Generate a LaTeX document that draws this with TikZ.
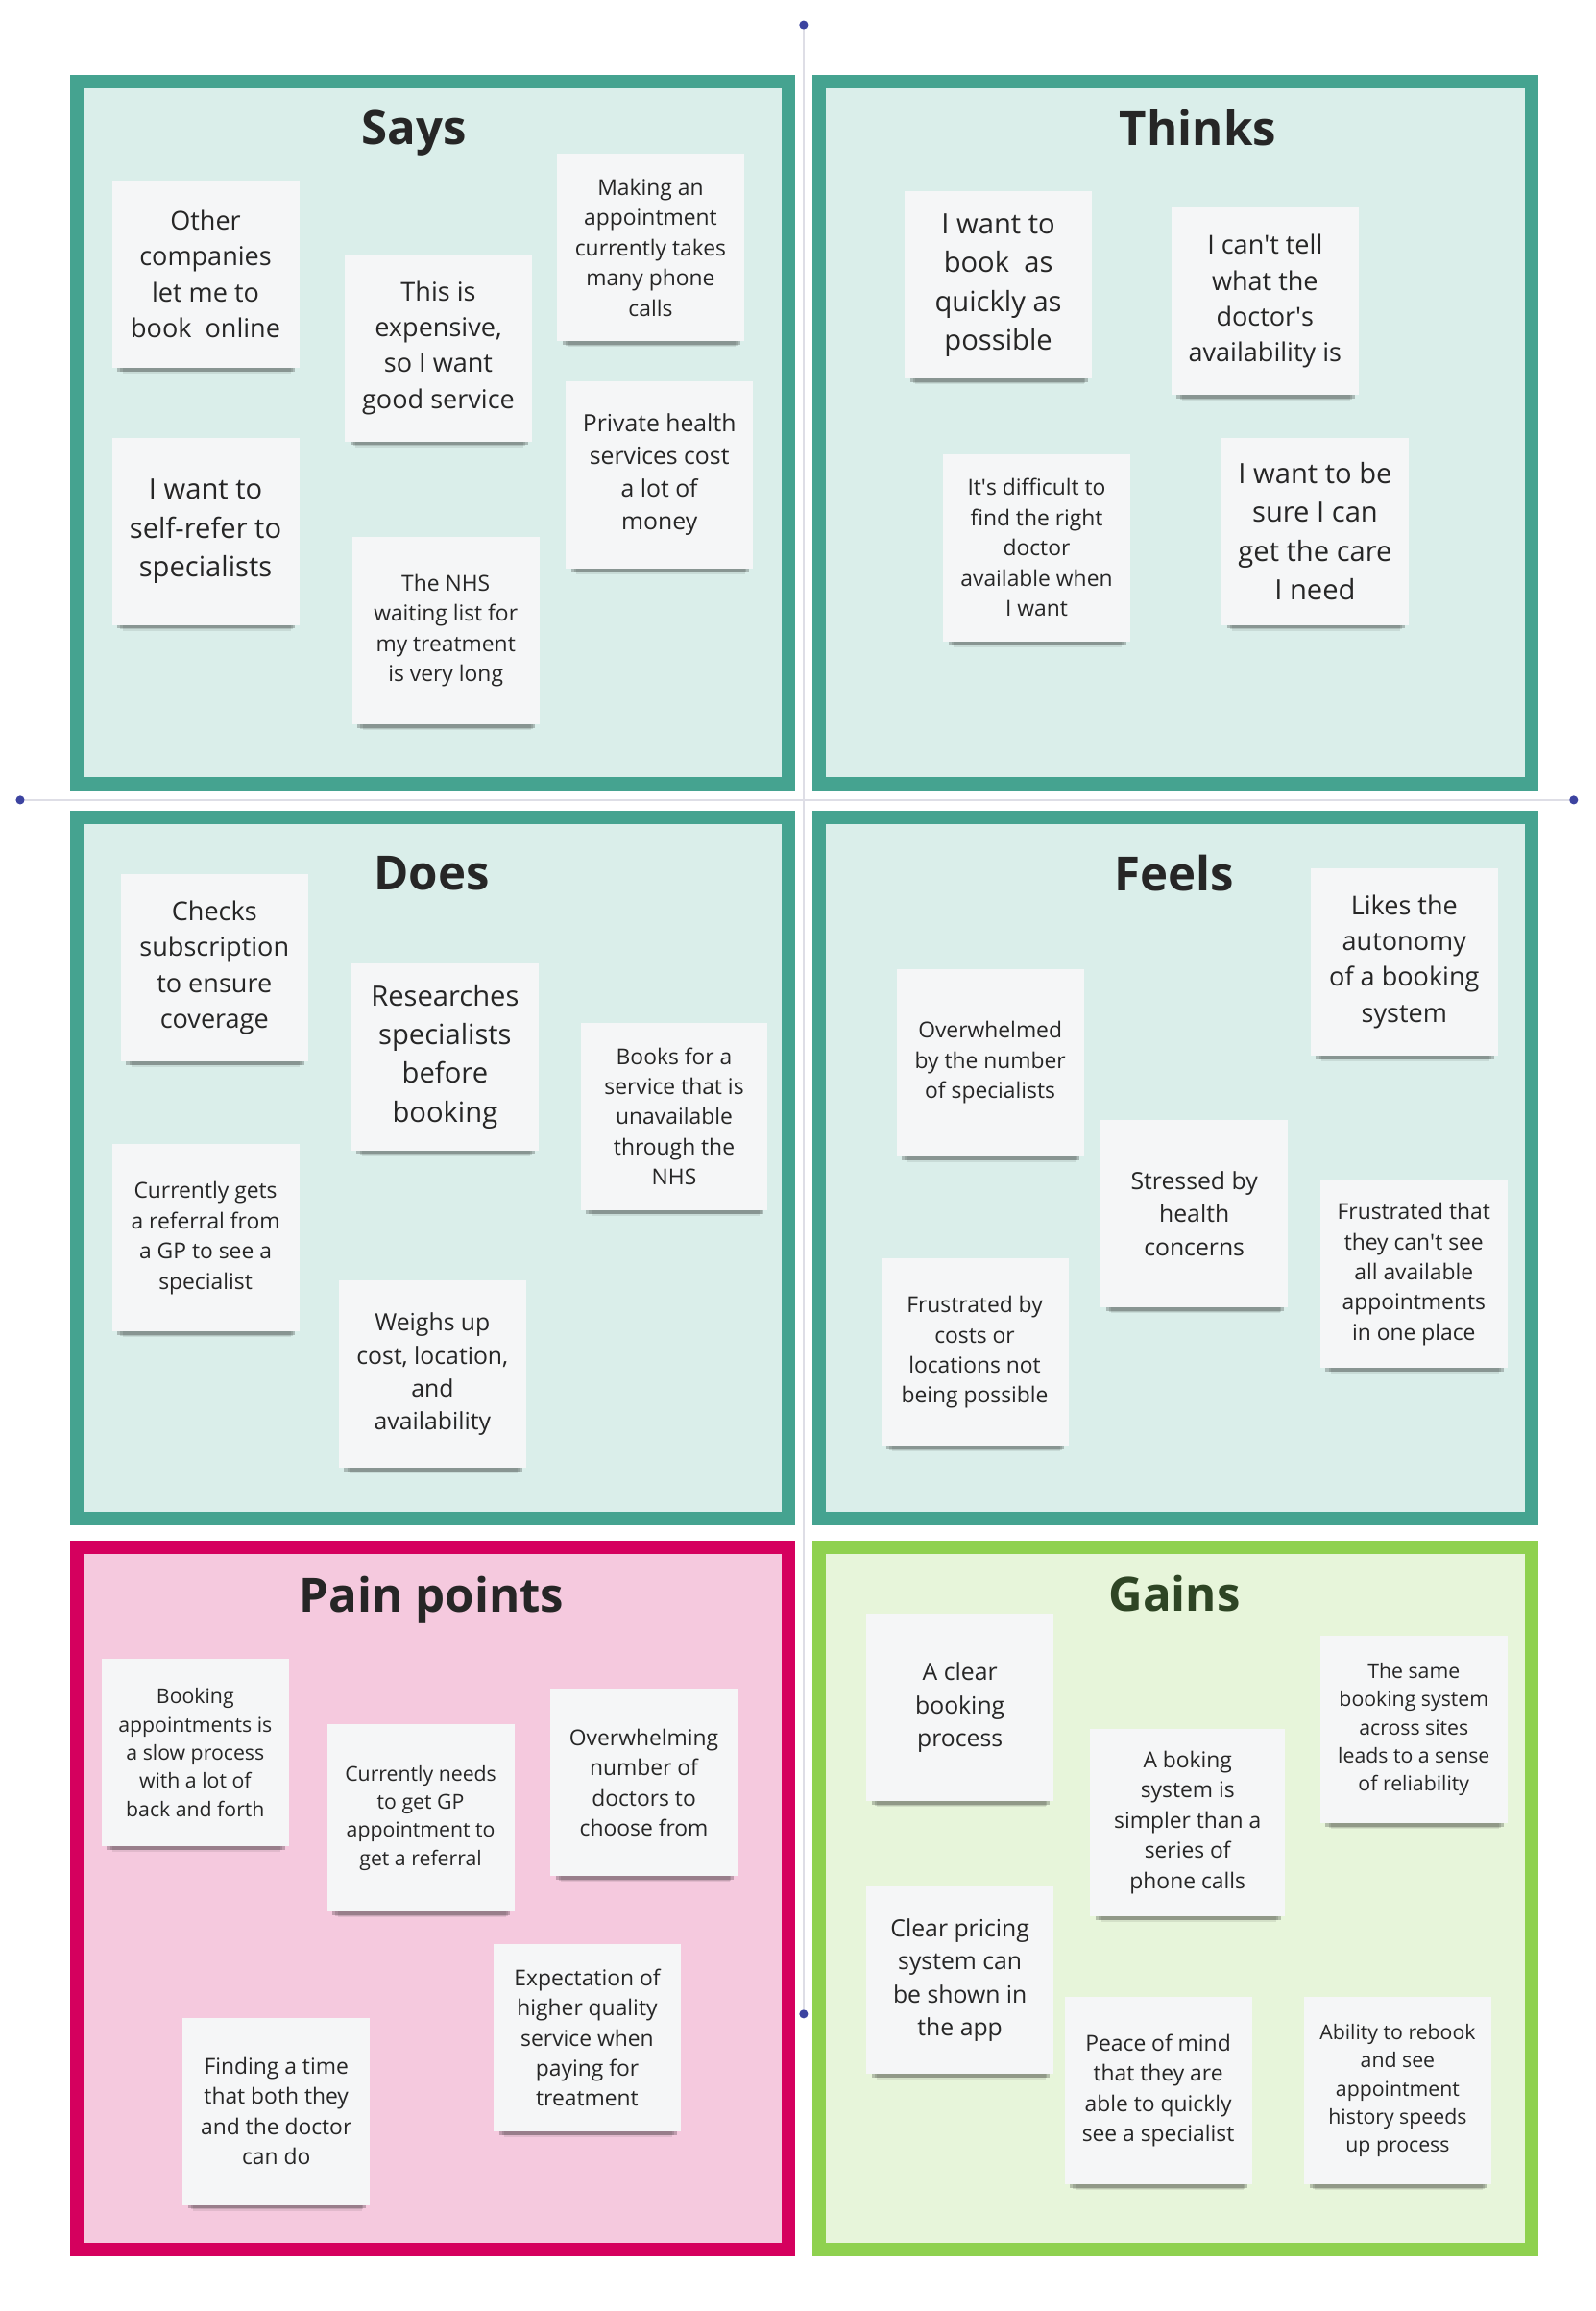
\documentclass[tikz,border=0pt]{standalone}
\usepackage{fontspec}
\setmainfont{Open Sans}
\usetikzlibrary{shadows}
\definecolor{tealb}{HTML}{45A390}
\definecolor{tealf}{HTML}{DAEEEA}
\definecolor{pinkb}{HTML}{D5005E}
\definecolor{pinkf}{HTML}{F5C9DE}
\definecolor{greenb}{HTML}{8FD14F}
\definecolor{greenf}{HTML}{E7F5DA}
\definecolor{gaint}{HTML}{2E4524}
\definecolor{notef}{HTML}{F5F6F7}
\definecolor{notet}{HTML}{262626}
\definecolor{dotc}{HTML}{3C43A0}
\definecolor{guidec}{HTML}{DEDEE6}
\newcommand{\ap}{\textquotesingle}
\tikzset{panel/.style={line width=3.97pt, minimum width=7.42cm, minimum height=7.31cm, inner sep=0pt},
  note/.style={fill=notef, text=notet, align=center, inner sep=1pt, minimum width=1.95cm, minimum height=1.95cm,
    drop shadow={shadow scale=.9, shadow xshift=.4pt, shadow yshift=-5pt, opacity=.08, fill=black},
    drop shadow={shadow scale=.92, shadow xshift=.3pt, shadow yshift=-3.8pt, opacity=.12, fill=black},
    drop shadow={shadow scale=.95, shadow xshift=.2pt, shadow yshift=-2.6pt, opacity=.22, fill=black}},
  ttl/.style={font=\fontsize{14}{16}\selectfont\bfseries, text=notet, anchor=base},
  szA/.style={font=\fontsize{8.3}{11.5}\selectfont},
  szB/.style={font=\fontsize{7.7}{10.65}\selectfont},
  szC/.style={font=\fontsize{7.05}{9.75}\selectfont},
  szD/.style={font=\fontsize{6.5}{8.95}\selectfont},
  szE/.style={font=\fontsize{6.05}{8.35}\selectfont},
  dot/.style={circle, fill=dotc, inner sep=0pt, minimum size=2.6pt},
  guide/.style={draw=guidec, line width=.6pt}}
\begin{document}
\begin{tikzpicture}[x=0.015346cm, y=-0.015346cm]
  \useasboundingbox[fill=white] (0,0) rectangle (1083,1568);
  % guide lines
  \node[dot] (gtop) at (545.4,17) {};
  \node[dot] (gbot) at (545.4,1366.5) {};
  \node[dot] (glft) at (13.7,542.8) {};
  \node[dot] (grgt) at (1068,542.8) {};
  \draw[guide] (gtop) -- (gbot);
  \draw[guide] (glft) -- (grgt);
  % panels
  \node[panel, draw=tealb, fill=tealf] (says) at (293.6,293.6) {};
  \node[panel, draw=tealb, fill=tealf] (thinks) at (797.5,293.6) {};
  \node[panel, draw=tealb, fill=tealf] (does) at (293.6,792.5) {};
  \node[panel, draw=tealb, fill=tealf] (feels) at (797.5,792.5) {};
  \node[panel, draw=pinkb, fill=pinkf] (pain) at (293.6,1288) {};
  \node[panel, draw=greenb, fill=greenf] (gains) at (797.5,1288) {};
  \node[ttl] (saysT) at (281,98) {Says};
  \node[ttl] (thinksT) at (813,98.5) {Thinks};
  \node[ttl] (doesT) at (293,603.5) {Does};
  \node[ttl] (feelsT) at (797,604.5) {Feels};
  \node[ttl] (painT) at (293,1094) {Pain points};
  \node[ttl, text=gaint] (gainsT) at (797,1093.5) {Gains};
  % says
  \node[note, szB] (says1) at (139.5,186) {Other\\companies\\let me to\\book\ \ online};
  \node[note, szB] (says2) at (297.5,236) {This is\\expensive,\\so I want\\good service};
  \node[note, szD] (says3) at (441.5,168) {Making an\\appointment\\currently takes\\many phone\\calls};
  \node[note, szA] (says4) at (139.5,360.5) {I want to\\self-refer to\\specialists};
  \node[note, szC] (says5) at (447.5,322) {Private health\\services cost\\a lot of\\money};
  \node[note, szD] (says6) at (302.5,428) {The NHS\\waiting list for\\my treatment\\is very long};
  % thinks
  \node[note, szA] (thk1) at (677.5,193.5) {I want to\\book\ \ as\\quickly as\\possible};
  \node[note, szB] (thk2) at (858.5,204.5) {I can\ap t tell\\what the\\doctor\ap s\\availability is};
  \node[note, szD] (thk3) at (703.5,371.5) {It\ap s difficult to\\find the right\\doctor\\available when\\I want};
  \node[note, szA] (thk4) at (892.5,360.5) {I want to be\\sure I can\\get the care\\I need};
  % does
  \node[note, szB] (does1) at (145.5,656.5) {Checks\\subscription\\to ensure\\coverage};
  \node[note, szA] (does2) at (302,717) {Researches\\specialists\\before\\booking};
  \node[note, szD] (does3) at (457.5,757.5) {Books for a\\service that is\\unavailable\\through the\\NHS};
  \node[note, szD] (does4) at (139.5,840) {Currently gets\\a referral from\\a GP to see a\\specialist};
  \node[note, szC] (does5) at (293.5,932.5) {Weighs up\\cost, location,\\and\\availability};
  % feels
  \node[note, szB] (feel1) at (953,652.5) {Likes the\\autonomy\\of a booking\\system};
  \node[note, szD] (feel2) at (672,721) {Overwhelmed\\by the number\\of specialists};
  \node[note, szC] (feel3) at (810.5,823.5) {Stressed by\\health\\concerns};
  \node[note, szD] (feel4) at (959.5,864.5) {Frustrated that\\they can\ap t see\\all available\\appointments\\in one place};
  \node[note, szD] (feel5) at (661.5,917.5) {Frustrated by\\costs or\\locations not\\being possible};
  % pain points
  \node[note, szE] (pain1) at (132.5,1189) {Booking\\appointments is\\a slow process\\with a lot of\\back and forth};
  \node[note, szE] (pain2) at (285.5,1233.5) {Currently needs\\to get GP\\appointment to\\get a referral};
  \node[note, szD] (pain3) at (437,1209.5) {Overwhelming\\number of\\doctors to\\choose from};
  \node[note, szD] (pain4) at (187.5,1432.5) {Finding a time\\that both they\\and the doctor\\can do};
  \node[note, szD] (pain5) at (398.5,1382.5) {Expectation of\\higher quality\\service when\\paying for\\treatment};
  % gains
  \node[note, szC] (gain1) at (651.5,1158.5) {A clear\\booking\\process};
  \node[note, szD, minimum width=2.03cm] (gain2) at (806,1236.5) {A boking\\system is\\simpler than a\\series of\\phone calls};
  \node[note, szE] (gain3) at (959.5,1173.5) {The same\\booking system\\across sites\\leads to a sense\\of reliability};
  \node[note, szC] (gain4) at (651.5,1343.5) {Clear pricing\\system can\\be shown in\\the app};
  \node[note, szD] (gain5) at (786,1418.5) {Peace of mind\\that they are\\able to quickly\\see a specialist};
  \node[note, szE] (gain6) at (948.5,1418.5) {Ability to rebook\\and see\\appointment\\history speeds\\up process};
\end{tikzpicture}
\end{document}
